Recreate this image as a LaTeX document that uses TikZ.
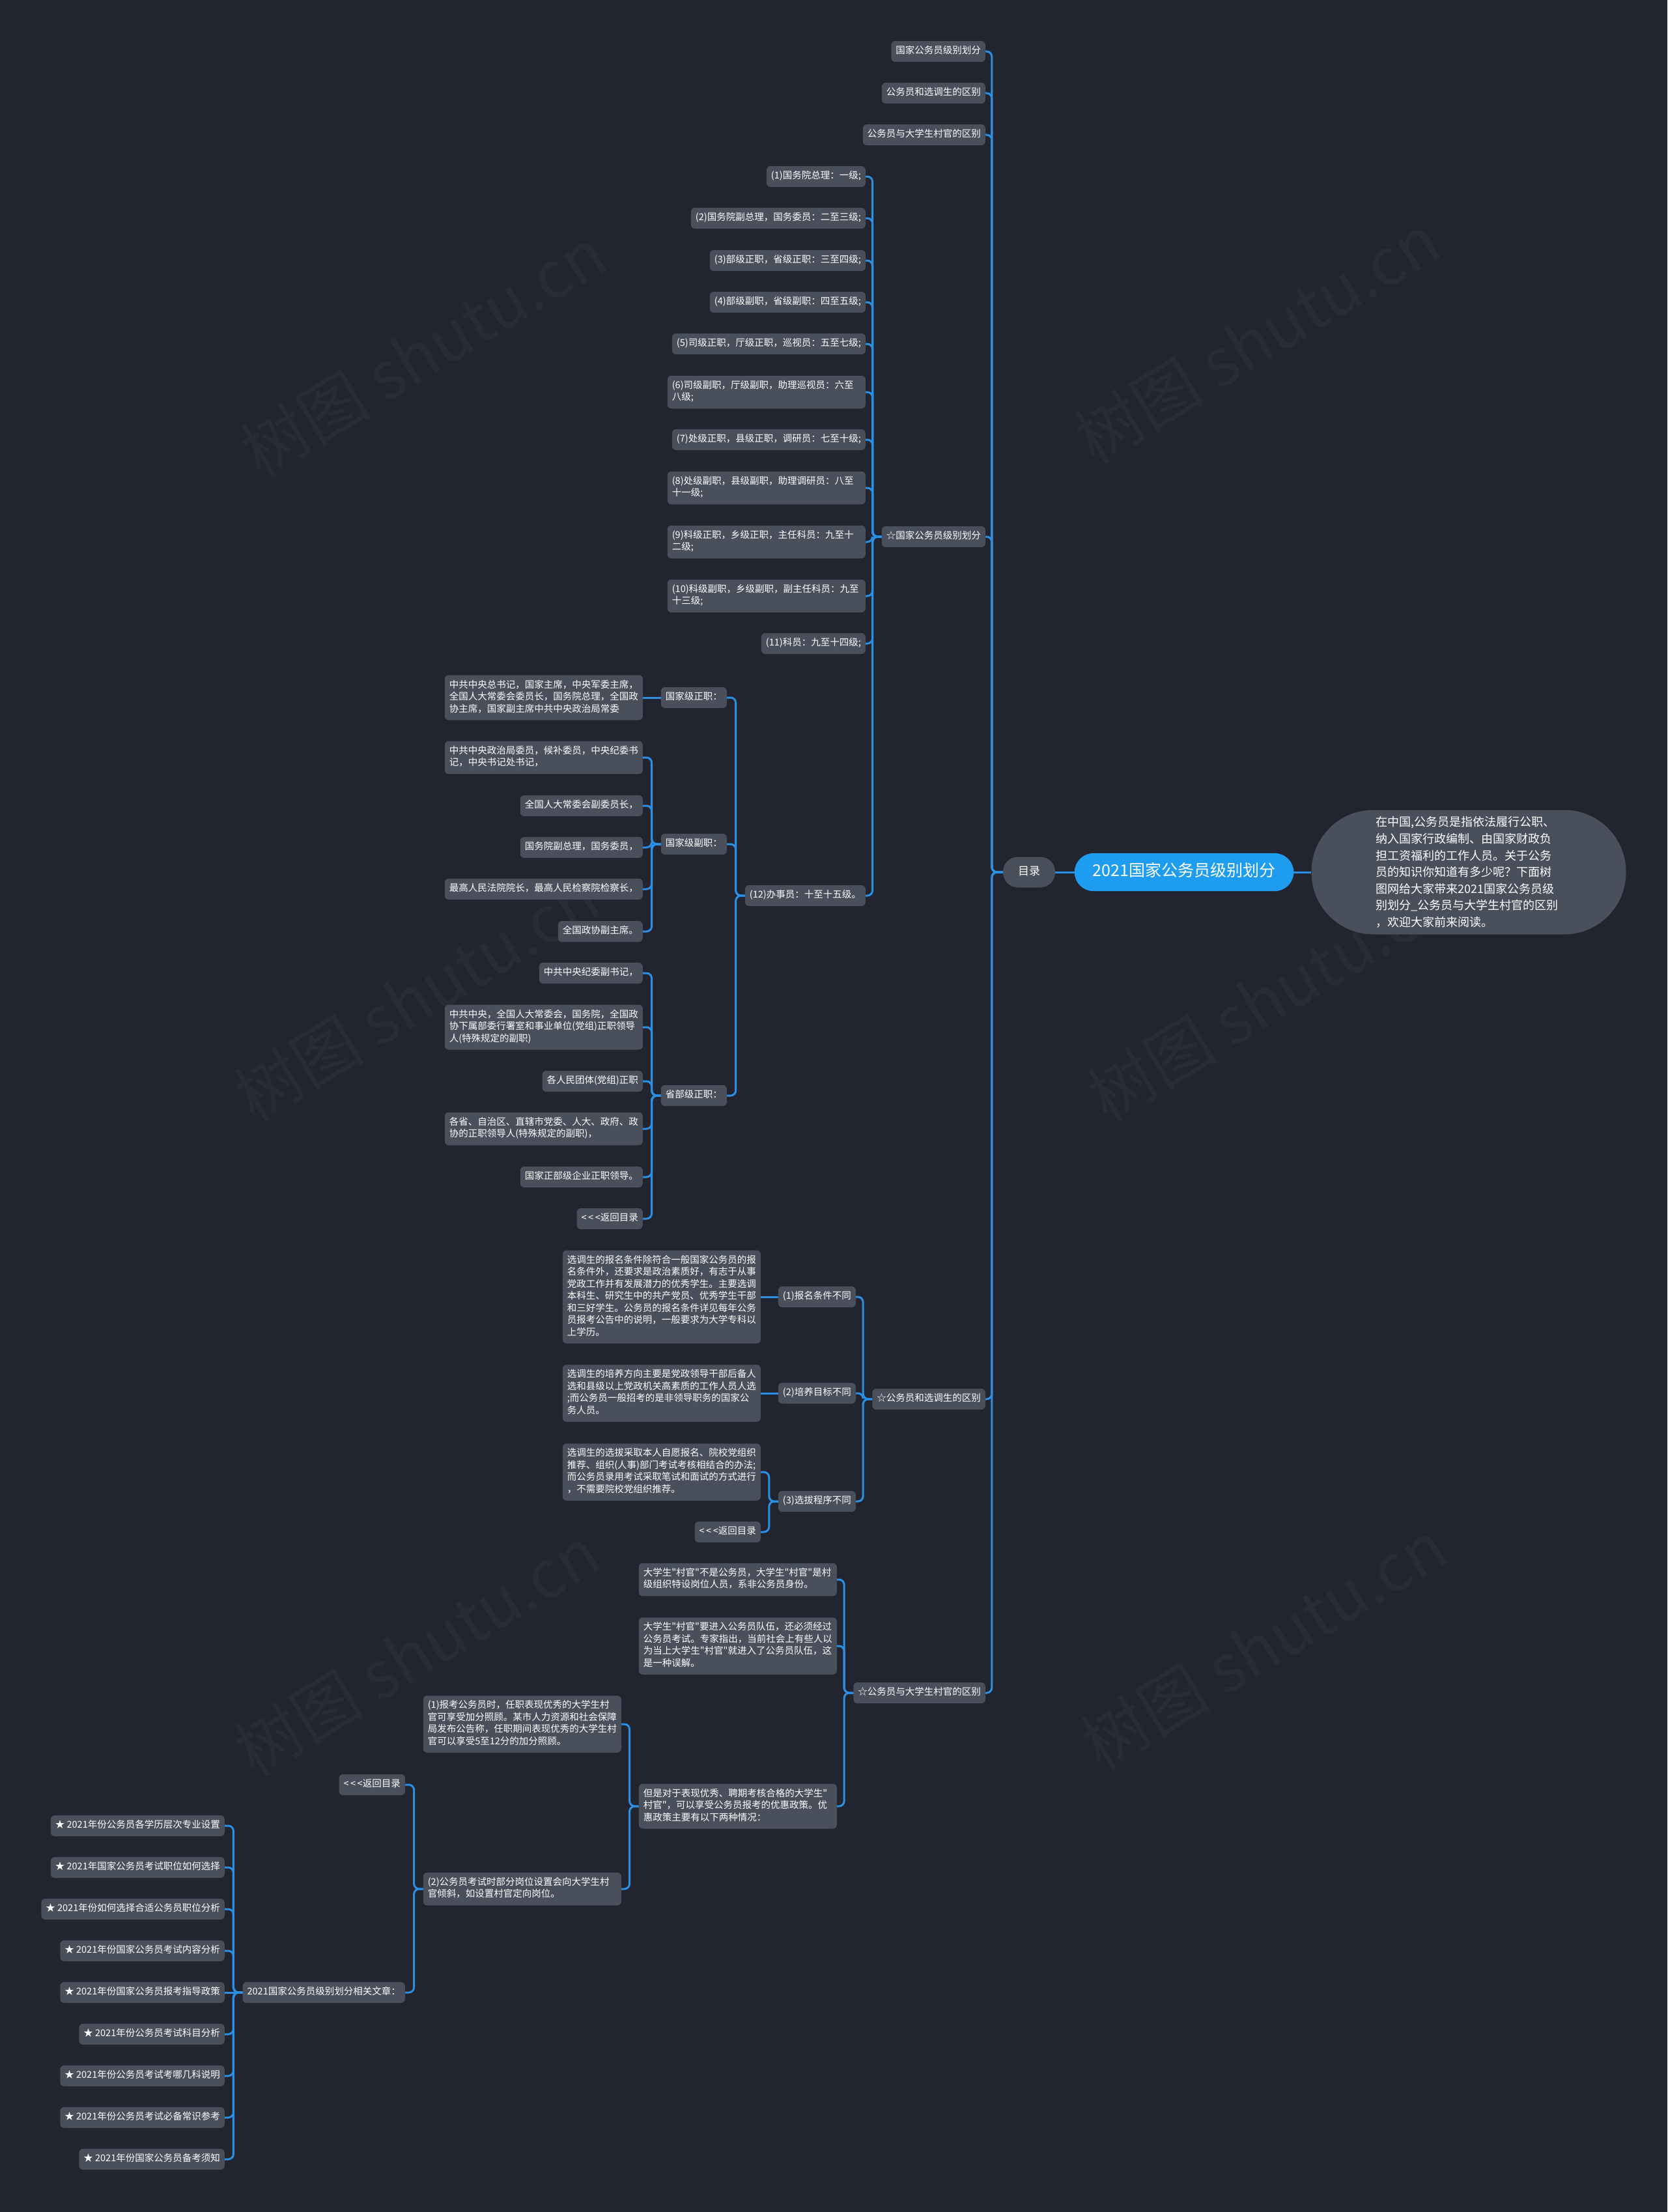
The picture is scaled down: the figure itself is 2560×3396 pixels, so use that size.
\documentclass[tikz,border=0pt]{standalone}
\usepackage{fontspec}
\newfontfamily\cjk{Noto Sans CJK SC}
\definecolor{bgc}{HTML}{22252F}
\definecolor{ndc}{HTML}{4A4F5C}
\definecolor{lnc}{HTML}{2B8FE3}
\definecolor{rootc}{HTML}{1E9CF0}
\definecolor{wmc}{HTML}{292C36}
\newcommand{\backtxt}{<\kern2.5pt<\kern2.5pt<返回目录}
\begin{document}
\begin{tikzpicture}[x=1pt,y=-1pt,
  nd/.style={fill=ndc, rounded corners=6pt, text=white, font=\cjk\fontsize{14.5}{18.5}\selectfont,
    inner xsep=7pt, inner ysep=6.75pt, align=left, anchor=east,
    execute at begin node=\strut, execute at end node=\strut},
  wr/.style={text width=290pt},
  conn/.style={draw=lnc, line width=3pt, rounded corners=8pt},
  wm/.style={font=\cjk\fontsize{100}{100}\selectfont, text=wmc, rotate=31},
  rootnode/.style={fill=rootc, rounded corners=29pt, text=white, font=\cjk\fontsize{25}{30}\selectfont,
    inner xsep=28pt, inner ysep=14pt, execute at begin node=\strut},
  mulunode/.style={fill=ndc, rounded corners=23pt, text=white, font=\cjk\fontsize{17}{21}\selectfont,
    inner xsep=23pt, inner ysep=13pt, execute at begin node=\strut},
  descnode/.style={fill=ndc, rounded corners=95pt, text=white, font=\cjk\fontsize{18}{25.6}\selectfont,
    minimum width=483pt, minimum height=191pt, text width=285pt, align=left, inner sep=6pt}
]
\fill[bgc] (0,0) rectangle (2560,3396);
\useasboundingbox (0,0) rectangle (2560,3396);

% watermarks
\node[wm] (wm1) at (650,540) {树图 shutu.cn};
\node[wm] (wm2) at (1930,520) {树图 shutu.cn};
\node[wm] (wm3) at (640,1530) {树图 shutu.cn};
\node[wm] (wm4) at (1950,1530) {树图 shutu.cn};
\node[wm] (wm5) at (640,2535) {树图 shutu.cn};
\node[wm] (wm6) at (1940,2525) {树图 shutu.cn};

% center
\node[rootnode] (root) at (1818,1339) {2021国家公务员级别划分};
\node[descnode] (desc) at (2255,1339) {在中国,公务员是指依法履行公职、\\纳入国家行政编制、由国家财政负\\担工资福利的工作人员。关于公务\\员的知识你知道有多少呢？下面树\\图网给大家带来2021国家公务员级\\别划分\_公务员与大学生村官的区别\\，欢迎大家前来阅读。};
\node[mulunode] (mulu) at (1580,1339) {目录};

% level 1
\node[nd] (a1) at (1513,79) {国家公务员级别划分};
\node[nd] (a2) at (1513,143) {公务员和选调生的区别};
\node[nd] (a3) at (1513,207) {公务员与大学生村官的区别};
\node[nd] (s1) at (1513,824) {☆国家公务员级别划分};
\node[nd] (s2) at (1513,2148) {☆公务员和选调生的区别};
\node[nd] (s3) at (1513,2599) {☆公务员与大学生村官的区别};

% grades
\node[nd] (g1) at (1329,271) {(1)国务院总理：一级;};
\node[nd] (g2) at (1329,335) {(2)国务院副总理，国务委员：二至三级;};
\node[nd] (g3) at (1329,400) {(3)部级正职，省级正职：三至四级;};
\node[nd] (g4) at (1329,464) {(4)部级副职，省级副职：四至五级;};
\node[nd] (g5) at (1329,528) {(5)司级正职，厅级正职，巡视员：五至七级;};
\node[nd,wr] (g6) at (1329,602) {(6)司级副职，厅级副职，助理巡视员：六至\\八级;};
\node[nd] (g7) at (1329,675) {(7)处级正职，县级正职，调研员：七至十级;};
\node[nd,wr] (g8) at (1329,749) {(8)处级副职，县级副职，助理调研员：八至\\十一级;};
\node[nd,wr] (g9) at (1329,832) {(9)科级正职，乡级正职，主任科员：九至十\\二级;};
\node[nd,wr] (g10) at (1329,915) {(10)科级副职，乡级副职，副主任科员：九至\\十三级;};
\node[nd] (g11) at (1329,988) {(11)科员：九至十四级;};
\node[nd] (g12) at (1329,1375) {(12)办事员：十至十五级。};

\node[nd] (h1) at (1116,1071) {国家级正职：};
\node[nd] (h2) at (1116,1296) {国家级副职：};
\node[nd] (h3) at (1116,1682) {省部级正职：};

\node[nd,wr] (t1) at (987,1071) {中共中央总书记，国家主席，中央军委主席，\\全国人大常委会委员长，国务院总理，全国政\\协主席，国家副主席中共中央政治局常委};

\node[nd,wr] (u1) at (987,1163) {中共中央政治局委员，候补委员，中央纪委书\\记，中央书记处书记，};
\node[nd] (u2) at (987,1237) {全国人大常委会副委员长，};
\node[nd] (u3) at (987,1301) {国务院副总理，国务委员，};
\node[nd] (u4) at (987,1365) {最高人民法院院长，最高人民检察院检察长，};
\node[nd] (u5) at (987,1430) {全国政协副主席。};

\node[nd] (v1) at (987,1494) {中共中央纪委副书记，};
\node[nd,wr] (v2) at (987,1577) {中共中央，全国人大常委会，国务院，全国政\\协下属部委行署室和事业单位(党组)正职领导\\人(特殊规定的副职)};
\node[nd] (v3) at (987,1660) {各人民团体(党组)正职};
\node[nd,wr] (v4) at (987,1733) {各省、自治区、直辖市党委、人大、政府、政\\协的正职领导人(特殊规定的副职)，};
\node[nd] (v5) at (987,1807) {国家正部级企业正职领导。};
\node[nd] (v6) at (987,1871) {\backtxt};

% xuandiaosheng
\node[nd] (p1) at (1314,1991) {(1)报名条件不同};
\node[nd] (p2) at (1314,2139) {(2)培养目标不同};
\node[nd] (p3) at (1314,2305) {(3)选拔程序不同};
\node[nd,wr] (q1) at (1168,1991) {选调生的报名条件除符合一般国家公务员的报\\名条件外，还要求是政治素质好，有志于从事\\党政工作并有发展潜力的优秀学生。主要选调\\本科生、研究生中的共产党员、优秀学生干部\\和三好学生。公务员的报名条件详见每年公务\\员报考公告中的说明，一般要求为大学专科以\\上学历。};
\node[nd,wr] (q2) at (1168,2139) {选调生的培养方向主要是党政领导干部后备人\\选和县级以上党政机关高素质的工作人员人选\\;而公务员一般招考的是非领导职务的国家公\\务人员。};
\node[nd,wr] (q3) at (1168,2260) {选调生的选拔采取本人自愿报名、院校党组织\\推荐、组织(人事)部门考试考核相结合的办法;\\而公务员录用考试采取笔试和面试的方式进行\\，不需要院校党组织推荐。};
\node[nd] (q4) at (1168,2352) {\backtxt};

% cunguan
\node[nd,wr] (r1) at (1285,2425) {大学生"村官"不是公务员，大学生"村官"是村\\级组织特设岗位人员，系非公务员身份。};
\node[nd,wr] (r2) at (1285,2527) {大学生"村官"要进入公务员队伍，还必须经过\\公务员考试。专家指出，当前社会上有些人以\\为当上大学生"村官"就进入了公务员队伍，这\\是一种误解。};
\node[nd,wr] (r3) at (1285,2773) {但是对于表现优秀、聘期考核合格的大学生"\\村官"，可以享受公务员报考的优惠政策。优\\惠政策主要有以下两种情况：};
\node[nd,wr] (w1) at (954,2647) {(1)报考公务员时，任职表现优秀的大学生村\\官可享受加分照顾。某市人力资源和社会保障\\局发布公告称，任职期间表现优秀的大学生村\\官可以享受5至12分的加分照顾。};
\node[nd,wr] (w2) at (954,2900) {(2)公务员考试时部分岗位设置会向大学生村\\官倾斜，如设置村官定向岗位。};
\node[nd] (x1) at (622,2740) {\backtxt};
\node[nd] (x2) at (622,3059) {2021国家公务员级别划分相关文章：};

\node[nd] (y1) at (345,2803) {★ 2021年份公务员各学历层次专业设置};
\node[nd] (y2) at (345,2867) {★ 2021年国家公务员考试职位如何选择};
\node[nd] (y3) at (345,2931) {★ 2021年份如何选择合适公务员职位分析};
\node[nd] (y4) at (345,2995) {★ 2021年份国家公务员考试内容分析};
\node[nd] (y5) at (345,3059) {★ 2021年份国家公务员报考指导政策};
\node[nd] (y6) at (345,3123) {★ 2021年份公务员考试科目分析};
\node[nd] (y7) at (345,3187) {★ 2021年份公务员考试考哪几科说明};
\node[nd] (y8) at (345,3251) {★ 2021年份公务员考试必备常识参考};
\node[nd] (y9) at (345,3315) {★ 2021年份国家公务员备考须知};

% connectors
\draw[conn] (root.west) -- (mulu.east);
\draw[conn] (root.east) -- (desc.west);
\foreach \c in {a1,a2,a3,s1,s2,s3} \draw[conn] (mulu.west) -- ++(-17,0) |- (\c.east);
\foreach \c in {g1,g2,g3,g4,g5,g6,g7,g8,g9,g10,g11,g12} \draw[conn] (s1.west) -- ++(-14,0) |- (\c.east);
\foreach \c in {h1,h2,h3} \draw[conn] (g12.west) -- ++(-14,0) |- (\c.east);
\draw[conn] (h1.west) -- (t1.east);
\foreach \c in {u1,u2,u3,u4,u5} \draw[conn] (h2.west) -- ++(-14,0) |- (\c.east);
\foreach \c in {v1,v2,v3,v4,v5,v6} \draw[conn] (h3.west) -- ++(-14,0) |- (\c.east);
\foreach \c in {p1,p2,p3} \draw[conn] (s2.west) -- ++(-14,0) |- (\c.east);
\draw[conn] (p1.west) -- (q1.east);
\draw[conn] (p2.west) -- (q2.east);
\foreach \c in {q3,q4} \draw[conn] (p3.west) -- ++(-14,0) |- (\c.east);
\foreach \c in {r1,r2,r3} \draw[conn] (s3.west) -- ++(-14,0) |- (\c.east);
\foreach \c in {w1,w2} \draw[conn] (r3.west) -- ++(-14,0) |- (\c.east);
\foreach \c in {x1,x2} \draw[conn] (w2.west) -- ++(-14,0) |- (\c.east);
\foreach \c in {y1,y2,y3,y4,y6,y7,y8,y9} \draw[conn] (x2.west) -- ++(-14,0) |- (\c.east);
\draw[conn] (x2.west) -- (y5.east);
\end{tikzpicture}
\end{document}
